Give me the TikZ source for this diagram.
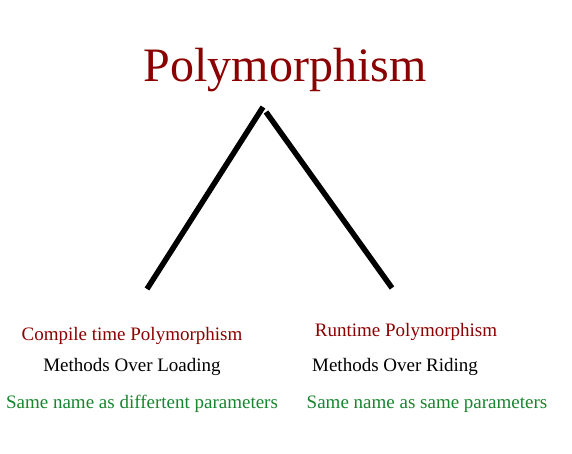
\documentclass[tikz,border=0pt]{standalone}
\usepackage{fontspec}
\setmainfont{Liberation Serif}
\definecolor{dred}{HTML}{8B0000}
\definecolor{dgreen}{HTML}{18862E}
\begin{document}
\begin{tikzpicture}[x=1pt,y=1pt,
  title/.style={text=dred,font=\fontsize{48}{52}\selectfont,inner sep=0pt},
  kind/.style={text=dred,font=\fontsize{19}{22}\selectfont,inner sep=0pt},
  meth/.style={text=black,font=\fontsize{19}{22}\selectfont,inner sep=0pt},
  desc/.style={text=dgreen,font=\fontsize{19}{22}\selectfont,inner sep=0pt},
  branch/.style={line width=5.5pt}]
\useasboundingbox[fill=white] (0,0) rectangle (572,454);
\node[title] (t) at (285,384) {Polymorphism};
\coordinate (lt) at (263,347);
\coordinate (lb) at (147,165);
\coordinate (rt) at (266,342);
\coordinate (rb) at (392,166);
\draw[branch] (lt) -- (lb);
\draw[branch] (rt) -- (rb);
\node[kind] (c) at (132,118) {Compile time Polymorphism};
\node[kind] (r) at (406,122) {Runtime Polymorphism};
\node[meth] (ml) at (132,87) {Methods Over Loading};
\node[meth] (mr) at (395,87) {Methods Over Riding};
\node[desc] (dl) at (142,50) {Same name as differtent parameters};
\node[desc] (dr) at (427,50) {Same name as same parameters};
\end{tikzpicture}
\end{document}
